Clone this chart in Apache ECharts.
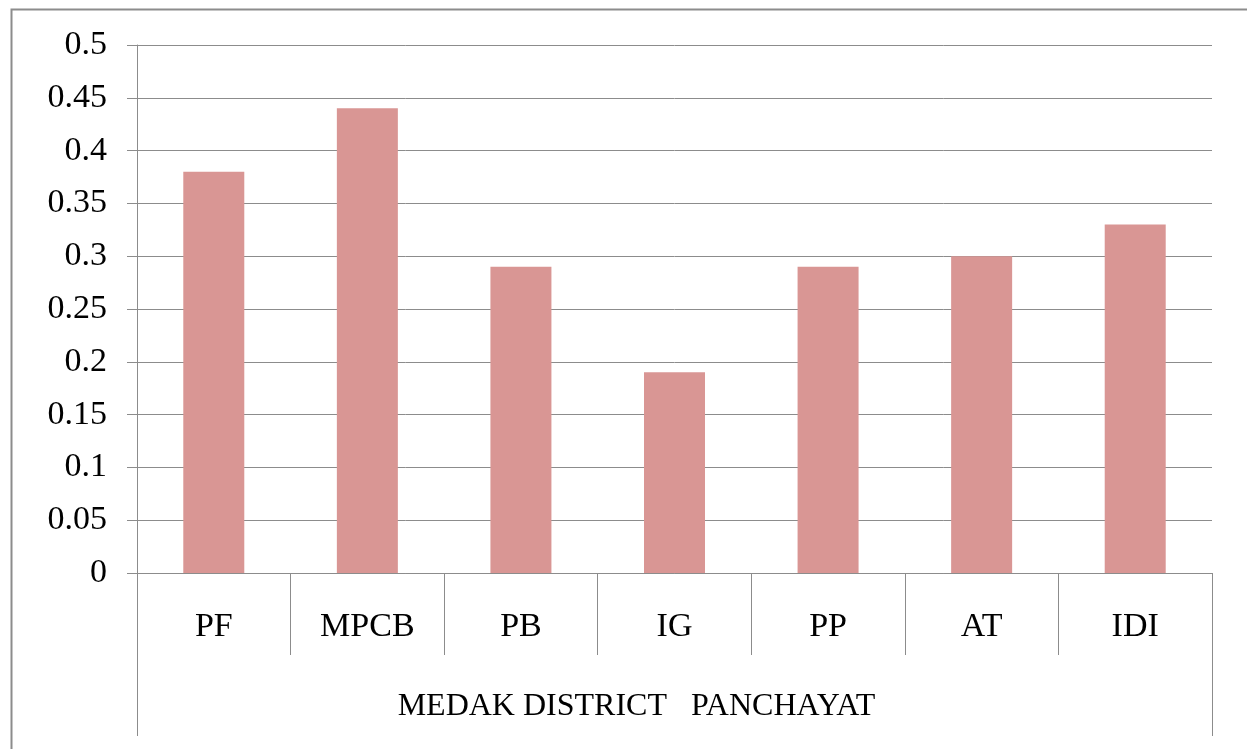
<!DOCTYPE html>
<html>
<head>
<meta charset="utf-8">
<script src="https://cdn.jsdelivr.net/npm/echarts@6/dist/echarts.min.js"></script>
<style>
html,body{margin:0;padding:0;background:#fff;}
#chart{width:1247px;height:749px;}
</style>
</head>
<body>
<div id="chart"></div>
<script>
// data
var categories = ['PF', 'MPCB', 'PB', 'IG', 'PP', 'AT', 'IDI'];
var values = [0.38, 0.44, 0.29, 0.19, 0.29, 0.30, 0.33];
var groupLabel = ['MEDAK DISTRICT   PANCHAYAT'];

var lineGray = '#8c8c8c';
var font = 'Liberation Serif';

var chart = echarts.init(document.getElementById('chart'));
chart.setOption({
    animation: false,
    graphic: [{
        type: 'rect',
        left: 9, top: 7,
        shape: {x: 0, y: 0, width: 1300, height: 800},
        style: {fill: 'none', stroke: lineGray, lineWidth: 2}
    }],
    grid: {left: 137, right: 35, top: 45, bottom: 176},
    xAxis: [{
        type: 'category',
        data: categories,
        axisLine: {lineStyle: {color: lineGray, width: 1}},
        axisTick: {show: true, length: 82, interval: 0, lineStyle: {color: lineGray}},
        axisLabel: {margin: 37, color: '#000', fontFamily: font, fontSize: 34, interval: 0}
    }, {
        type: 'category',
        data: groupLabel,
        position: 'bottom',
        axisLine: {show: false},
        axisTick: {show: true, length: 163, lineStyle: {color: lineGray}},
        axisLabel: {margin: 118, color: '#000', fontFamily: font, fontSize: 32, padding: [0, 76, 0, 0]}
    }],
    yAxis: {
        type: 'value',
        min: 0,
        max: 0.5,
        interval: 0.05,
        axisLine: {show: true, lineStyle: {color: lineGray}},
        axisTick: {show: true, length: 10, lineStyle: {color: lineGray}},
        axisLabel: {margin: 30, color: '#000', fontFamily: font, fontSize: 34},
        splitLine: {lineStyle: {color: lineGray}}
    },
    series: [{
        type: 'bar',
        data: values,
        barWidth: 61,
        itemStyle: {color: '#d99694'}
    }]
});
</script>
</body>
</html>
